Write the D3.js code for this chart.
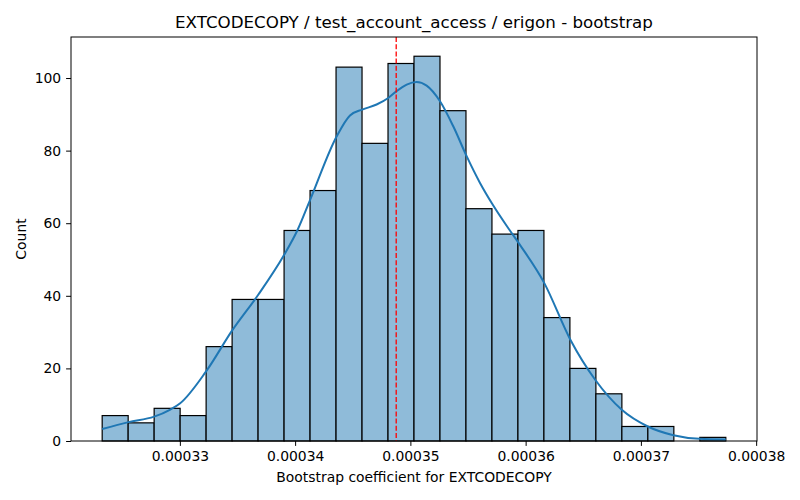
<!DOCTYPE html>
<html>

<head>
    <title>
        Bootstrap Histogram
    </title>
    <script src="https://cdn.jsdelivr.net/npm/d3@7"></script>
    <style>
        body { margin: 0; background: #fff; }
        svg text { font-family: "DejaVu Sans", sans-serif; fill: #000; }
    </style>
</head>

<body>
    <svg></svg>
    <script>
        const width = 800;
        const height = 500;
        const padding = { top: 37, bottom: 59, left: 71, right: 43 };

        // histogram bins (24 equal-width bins)
        const binStart = 0.00032326;
        const binWidth = 0.0000022545;
        const counts = [7, 5, 9, 7, 26, 39, 39, 58, 69, 103, 82, 104, 106, 91, 64, 57, 58, 34, 20, 13, 4, 4, 0, 1];

        // kde curve (x value, count)
        const kdeX = [0.00032326, 0.00032555, 0.00032777, 0.00032913, 0.00033003, 0.00033226, 0.00033457,
            0.00033680, 0.00033905, 0.00034022, 0.00034131, 0.00034360, 0.00034476, 0.00034582, 0.00034707,
            0.00034808, 0.00034881, 0.00034968, 0.00035055, 0.00035141, 0.00035257, 0.00035372, 0.00035489,
            0.00035604, 0.00035711, 0.00035859, 0.00035940, 0.00036162, 0.00036388, 0.00036605, 0.00036834,
            0.00037060, 0.00037282, 0.00037508, 0.00037737];
        const kdeY = [3.3, 5.2, 6.7, 8.6, 10.4, 19.1, 30.6, 40.3, 51.3, 58.2, 66.5, 83.9, 89.7, 91.3, 92.7,
            94.5, 96.4, 98.2, 98.9, 97.9, 93.6, 86.7, 78.4, 71.1, 65.3, 58.2, 54.5, 43.5, 27.9, 16.8, 8.6,
            4.0, 1.6, 0.6, 0.4];

        const meanValue = 0.00034877;
        const xTicks = [0.00033, 0.00034, 0.00035, 0.00036, 0.00037, 0.00038];
        const yTicks = [0, 20, 40, 60, 80, 100];

        const titleText = "EXTCODECOPY / test_account_access / erigon - bootstrap";
        const xLabel = "Bootstrap coefficient for EXTCODECOPY";
        const yLabel = "Count";

        const innerW = width - padding.left - padding.right;
        const innerH = height - padding.top - padding.bottom;

        let svg = d3.select("svg")
            .attr("width", width)
            .attr("height", height);

        let g = svg.append("g")
            .attr("transform", "translate(" + padding.left + "," + padding.top + ")");

        let bins = counts.map((c, i) => ({ x0: binStart + i * binWidth, x1: binStart + (i + 1) * binWidth, count: c }));
        let dataMin = bins[0].x0;
        let dataMax = bins[bins.length - 1].x1;
        let margin = (dataMax - dataMin) * 0.05;

        let xScale = d3.scaleLinear()
            .domain([dataMin - margin, dataMax + margin])
            .range([0, innerW]);

        let yScale = d3.scaleLinear()
            .domain([0, d3.max(counts) * 1.05])
            .range([innerH, 0]);

        // bars
        g.selectAll("rect.bar")
            .data(bins.filter(d => d.count > 0))
            .enter()
            .append("rect")
            .attr("class", "bar")
            .attr("x", d => xScale(d.x0))
            .attr("y", d => yScale(d.count))
            .attr("width", d => xScale(d.x1) - xScale(d.x0))
            .attr("height", d => yScale(0) - yScale(d.count))
            .attr("fill", "#8fbbd9")
            .attr("stroke", "#000")
            .attr("stroke-width", 1.2);

        // kde line
        let kdePoints = kdeX.map((x, i) => [x, kdeY[i]]);
        let linePath = d3.line()
            .x(d => xScale(d[0]))
            .y(d => yScale(d[1]))
            .curve(d3.curveMonotoneX);

        g.append("path")
            .attr("d", linePath(kdePoints))
            .attr("fill", "none")
            .attr("stroke", "#1f77b4")
            .attr("stroke-width", 2);

        // mean line
        g.append("line")
            .attr("x1", xScale(meanValue))
            .attr("x2", xScale(meanValue))
            .attr("y1", 0)
            .attr("y2", innerH)
            .attr("stroke", "red")
            .attr("stroke-width", 1.3)
            .attr("stroke-dasharray", "5,2.2");

        // axes
        let xAxis = d3.axisBottom(xScale)
            .tickValues(xTicks)
            .tickFormat(d3.format(".5f"))
            .tickSize(4.9)
            .tickPadding(4.9);
        let yAxis = d3.axisLeft(yScale)
            .tickValues(yTicks)
            .tickFormat(d3.format("d"))
            .tickSize(4.9)
            .tickPadding(4.9);

        let gx = g.append("g")
            .attr("transform", "translate(0," + innerH + ")")
            .call(xAxis);
        let gy = g.append("g")
            .call(yAxis);

        [gx, gy].forEach(a => {
            a.select(".domain").remove();
            a.selectAll("line").attr("stroke", "#000").attr("stroke-width", 1);
            a.selectAll("text").style("font-size", "13.9px").attr("font-family", "DejaVu Sans");
        });

        // frame
        g.append("rect")
            .attr("x", 0)
            .attr("y", 0)
            .attr("width", innerW)
            .attr("height", innerH)
            .attr("fill", "none")
            .attr("stroke", "#000")
            .attr("stroke-width", 1);

        // texts
        svg.append("text")
            .attr("x", padding.left + innerW / 2)
            .attr("y", padding.top - 9)
            .attr("text-anchor", "middle")
            .style("font-size", "16.7px")
            .text(titleText);

        svg.append("text")
            .attr("x", padding.left + innerW / 2)
            .attr("y", height - 18)
            .attr("text-anchor", "middle")
            .style("font-size", "13.9px")
            .text(xLabel);

        svg.append("text")
            .attr("transform", "translate(" + 26 + "," + (padding.top + innerH / 2) + ") rotate(-90)")
            .attr("text-anchor", "middle")
            .style("font-size", "13.9px")
            .text(yLabel);
    </script>
</body>

</html>
